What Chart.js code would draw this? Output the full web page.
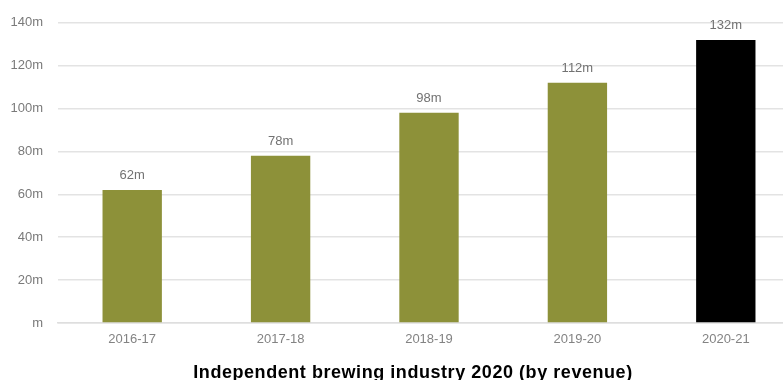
<!DOCTYPE html>
<html>
<head>
<meta charset="utf-8">
<script src="https://cdn.jsdelivr.net/npm/chart.js@4/dist/chart.umd.min.js"></script>
<style>
  html, body { margin: 0; padding: 0; background: #fff; overflow: hidden; }
  #wrap { position: absolute; left: 0; top: 0; width: 800px; height: 380px; }
</style>
</head>
<body>
<div id="wrap"><canvas id="revenueChart" width="800" height="380"></canvas></div>
<script>
// Revenue by financial year, in millions
const years = ['2016-17', '2017-18', '2018-19', '2019-20', '2020-21'];
const revenue = [62, 78, 98, 112, 132];
const barColours = ['#8d9139', '#8d9139', '#8d9139', '#8d9139', '#000000'];
const yTicks = [0, 20, 40, 60, 80, 100, 120, 140];
const chartTitle = 'Independent brewing industry 2020 (by revenue)';

const tickFont = { family: '"Liberation Sans", Arial, sans-serif', size: 13 };

// value labels above each bar + the title under the axis
const labelPlugin = {
  id: 'barLabels',
  afterDatasetsDraw(chart) {
    const ctx = chart.ctx;
    const meta = chart.getDatasetMeta(0);
    ctx.save();
    ctx.font = '13px "Liberation Sans", Arial, sans-serif';
    ctx.fillStyle = '#727272';
    ctx.textAlign = 'center';
    ctx.textBaseline = 'bottom';
    meta.data.forEach((bar, i) => {
      ctx.fillText(revenue[i] + 'm', bar.x, bar.y - 8);
    });
    ctx.font = 'bold 18px "Liberation Sans", Arial, sans-serif';
    ctx.letterSpacing = '0.55px';
    ctx.fillStyle = '#000';
    ctx.textBaseline = 'alphabetic';
    ctx.fillText(chartTitle, 413, 378);
    ctx.restore();
  }
};

new Chart(document.getElementById('revenueChart'), {
  type: 'bar',
  data: {
    labels: years,
    datasets: [{
      data: revenue,
      backgroundColor: barColours,
      barPercentage: 0.4,
      categoryPercentage: 1
    }]
  },
  options: {
    responsive: false,
    animation: false,
    layout: { padding: { top: 21, right: 0, bottom: 0, left: 0 } },
    plugins: { legend: { display: false }, tooltip: { enabled: false } },
    scales: {
      x: {
        grid: { display: false, drawTicks: false },
        border: { color: '#dedede', width: 1.5 },
        ticks: { color: '#838383', font: tickFont, padding: 9 },
        afterFit(axis) { axis.height = 57; }
      },
      y: {
        min: 0,
        max: 140,
        afterBuildTicks(axis) { axis.ticks = yTicks.map(v => ({ value: v })); },
        grid: { color: '#e3e3e3', lineWidth: 1.5, drawTicks: false },
        border: { display: false },
        ticks: {
          color: '#7a7a7a',
          font: tickFont,
          padding: 15,
          callback: v => (v === 0 ? '' : v) + 'm'
        },
        afterFit(axis) { axis.width = 58; }
      }
    }
  },
  plugins: [labelPlugin]
});
</script>
</body>
</html>
